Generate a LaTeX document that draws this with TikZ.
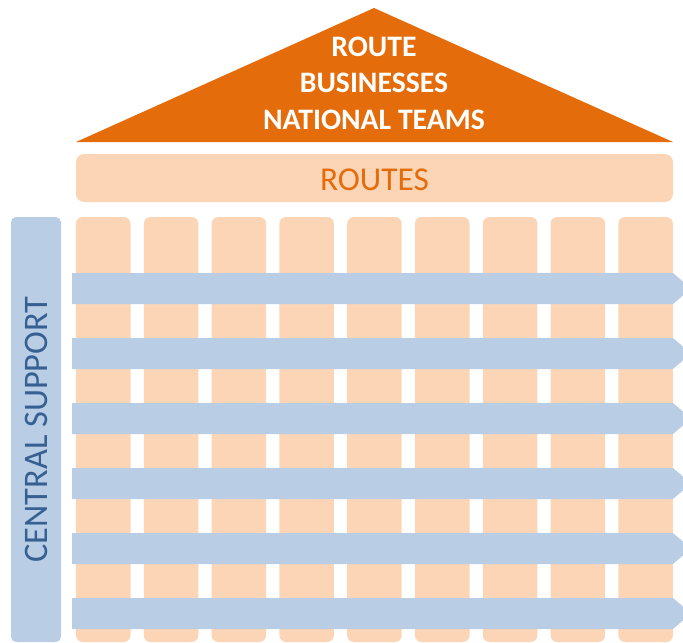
\documentclass[tikz,border=0pt]{standalone}
\usepackage{fontspec}
\setmainfont{Carlito}
\usetikzlibrary{positioning,calc}
\definecolor{RoofOrange}{RGB}{228,108,10}
\definecolor{SoftPeach}{RGB}{251,213,181}
\definecolor{BarBlue}{RGB}{185,205,229}
\definecolor{SupportBlue}{RGB}{55,96,146}
\tikzset{
  roof/.style={fill=RoofOrange},
  rooftext/.style={text=white,align=center,font=\fontsize{22.3}{27.4}\selectfont\bfseries},
  routesbox/.style={fill=SoftPeach,rounded corners=6pt,minimum width=447.75pt,
    minimum height=36pt,text=RoofOrange,text height=19.6pt,font=\fontsize{25}{30}\selectfont},
  pillarbox/.style={fill=SoftPeach,rounded corners=5pt,minimum width=40.9pt,
    minimum height=318.75pt,inner sep=0pt},
  supportbox/.style={fill=BarBlue,rounded corners=4pt,minimum width=318.75pt,
    minimum height=37.5pt,text=SupportBlue,font=\fontsize{25.8}{30}\selectfont},
}
\tikzset{bar/.style={fill=BarBlue}}

\begin{document}
\begin{tikzpicture}[x=0.75pt,y=-0.75pt]
\useasboundingbox (0,0) rectangle (683,643);
\clip (0,0) rectangle (683,643);
% roof
\coordinate (apex) at (374,8);
\coordinate (eaveL) at (76,142);
\coordinate (eaveR) at (673,142);
\fill[roof] (eaveL) -- (apex) -- (eaveR) -- cycle;
\node[rooftext] (roofnote) at (374,83) {ROUTE\\BUSINESSES\\NATIONAL TEAMS};
\node[routesbox] (routes) at (374.5,178) {ROUTES};
% pillars
\foreach \i in {0,...,8}
  \node[pillarbox] (pillar\i) at ({103.25+67.8*\i},429.5) {};
% support bars across the pillars
\foreach \j in {0,...,5} {
  \coordinate (barL\j) at (72,{273+65*\j});
  \fill[bar] (barL\j) -- ++(601,0) -- ++(18,15.5) -- ++(-18,15.5) -- ++(-601,0) -- cycle;
}
\node[supportbox,rotate=90] (support) at (36,429.5) {CENTRAL SUPPORT};
\end{tikzpicture}
\end{document}
